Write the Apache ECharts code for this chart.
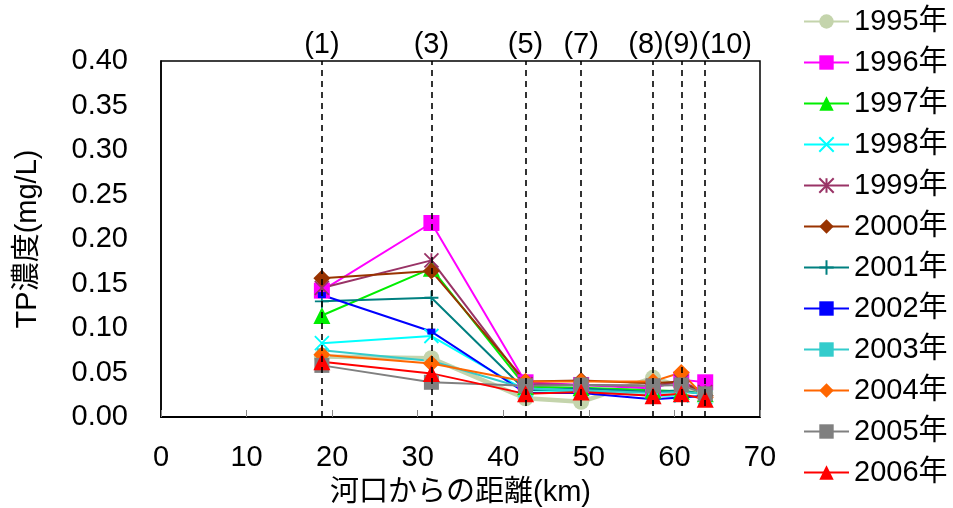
<!DOCTYPE html>
<html><head><meta charset="utf-8">
<script src="https://cdn.jsdelivr.net/npm/echarts@6/dist/echarts.min.js"></script>
<style>html,body{margin:0;padding:0;background:#fff}#c{width:953px;height:508px}</style>
</head><body><div id="c"></div>
<script>
const distances = [18.8, 31.6, 42.6, 49.1, 57.5, 60.8, 63.6];
const siteLabels = ['(1)', '(3)', '(5)', '(7)', '(8)', '(9)', '(10)'];
const yTicks = [0, 0.05, 0.10, 0.15, 0.20, 0.25, 0.30, 0.35, 0.40];
const xTicks = [0, 10, 20, 30, 40, 50, 60, 70];
const years = ['1995年','1996年','1997年','1998年','1999年','2000年','2001年','2002年','2003年','2004年','2005年','2006年'];
const v1995 = [0.068, 0.066, 0.021, 0.017, 0.044, 0.034, 0.027];
const v1996 = [0.142, 0.218, 0.039, 0.036, 0.032, 0.042, 0.039];
const v1997 = [0.114, 0.167, 0.034, 0.033, 0.030, 0.029, 0.026];
const v1998 = [0.083, 0.091, 0.030, 0.029, 0.024, 0.024, 0.022];
const v1999 = [0.145, 0.176, 0.037, 0.036, 0.035, 0.040, 0.028];
const v2000 = [0.156, 0.164, 0.040, 0.041, 0.038, 0.040, 0.024];
const v2001 = [0.130, 0.134, 0.030, 0.032, 0.028, 0.030, 0.025];
const v2002 = [0.137, 0.096, 0.027, 0.027, 0.020, 0.022, 0.024];
const v2003 = [0.075, 0.063, 0.032, 0.030, 0.027, 0.028, 0.026];
const v2004 = [0.070, 0.060, 0.040, 0.040, 0.040, 0.050, 0.022];
const v2005 = [0.058, 0.039, 0.035, 0.036, 0.035, 0.036, 0.026];
const v2006 = [0.062, 0.049, 0.026, 0.028, 0.024, 0.026, 0.020];
const values = [v1995,v1996,v1997,v1998,v1999,v2000,v2001,v2002,v2003,v2004,v2005,v2006];

const FONT = 'Liberation Sans, Arial, Noto Sans CJK JP, sans-serif';
const FS = 29;
// horizontal nudges of crowded site labels (style only)
const labelNudge = {'(8)': -7, '(10)': 21};
const styles = [
  {c:'#c4d4ac', sym:'circle', size:16, w:4.5},
  {c:'#ff00ff', sym:'rect', size:16, w:2},
  {c:'#00ee00', sym:'triangle', size:17, w:2},
  {c:'#00ffff', sym:'path://M0,0L10,10M10,0L0,10', size:14, w:2, stroke:true},
  {c:'#993366', sym:'path://M0,0L10,10M10,0L0,10M5,0L5,10', size:14, w:2, stroke:true},
  {c:'#993300', sym:'diamond', size:17, w:2},
  {c:'#008080', sym:'path://M0,5L10,5M5,0L5,10', size:14, w:2, stroke:true},
  {c:'#0000ff', sym:'rect', size:[8,6], w:2},
  {c:'#33cccc', sym:'rect', size:[10,4], w:2},
  {c:'#ff6600', sym:'diamond', size:17, w:2},
  {c:'#808080', sym:'rect', size:15, w:2},
  {c:'#ff0000', sym:'triangle', size:17, w:2}
];

const series = years.map((y, i) => {
  const s = styles[i];
  return {
    name: y, type: 'line',
    data: distances.map((d, j) => [d, values[i][j]]),
    symbol: s.sym, symbolSize: s.size, showAllSymbol: true,
    lineStyle: {color: s.c, width: s.w},
    itemStyle: s.stroke ? {color: 'rgba(0,0,0,0)', borderColor: s.c, borderWidth: 1.8} : {color: s.c, borderWidth: 0},
    emphasis: {disabled: true},
    animation: false
  };
});
series.push({
  name: 'sites', type: 'line', data: [], silent: true,
  markLine: {
    symbol: ['none', 'none'], silent: true, animation: false,
    lineStyle: {color: '#000', type: [6, 5], width: 1.6},
    label: {show: true, position: 'end', formatter: p => p.name, color: '#000', fontSize: FS, fontFamily: FONT, distance: 1},
    data: distances.map((d, j) => ({
      xAxis: d, name: siteLabels[j],
      label: {offset: [labelNudge[siteLabels[j]] || 0, 0]}
    }))
  }
});

const chart = echarts.init(document.getElementById('c'));
chart.setOption({
  backgroundColor: '#fff',
  animation: false,
  grid: {left: 161, top: 61, right: 193, bottom: 91, containLabel: false, outerBoundsMode: 'none', show: true, borderColor: '#000', borderWidth: 1.5, backgroundColor: 'transparent'},
  legend: {
    orient: 'vertical', left: 803, top: 7, padding: 0,
    itemWidth: 45, itemHeight: 18, itemGap: 12,
    data: years,
    textStyle: {fontSize: FS, lineHeight: 29, fontFamily: FONT, color: '#000'},
    selectedMode: false
  },
  xAxis: {
    type: 'value', min: xTicks[0], max: xTicks[xTicks.length-1], interval: 10,
    axisLine: {show: true, lineStyle: {color: '#000', width: 2}},
    axisTick: {show: true, inside: true, length: 7, lineStyle: {color: '#888', width: 1}},
    splitLine: {show: false},
    axisLabel: {fontSize: FS, fontFamily: FONT, color: '#000', margin: 26},
    name: '河口からの距離(km)', nameLocation: 'middle', nameGap: 61,
    nameTextStyle: {fontSize: FS, fontFamily: FONT, color: '#000'}
  },
  yAxis: {
    type: 'value', min: yTicks[0], max: yTicks[yTicks.length-1], interval: 0.05,
    axisLine: {show: true, lineStyle: {color: '#000', width: 1.5}},
    axisTick: {show: false},
    splitLine: {show: false},
    axisLabel: {fontSize: FS, fontFamily: FONT, color: '#000', margin: 33, formatter: v => v.toFixed(2)},
    name: 'TP濃度(mg/L)', nameLocation: 'middle', nameGap: 118, nameRotate: 90,
    nameTextStyle: {fontSize: FS, fontFamily: FONT, color: '#000'}
  },
  series: series
});
</script></body></html>
